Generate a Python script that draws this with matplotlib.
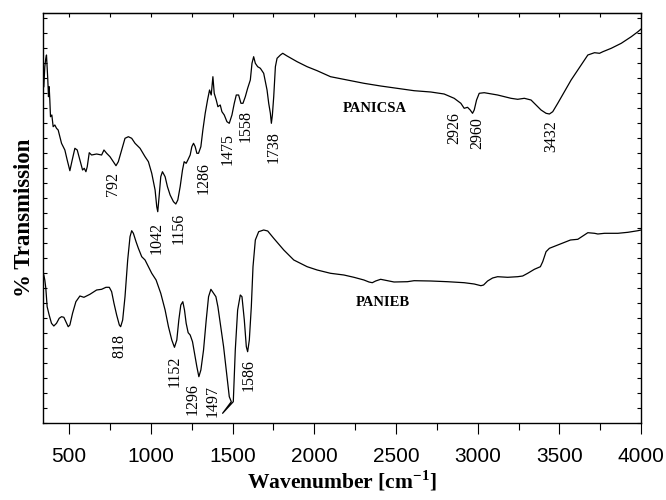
import matplotlib
matplotlib.use('Agg')
import matplotlib.pyplot as plt
from matplotlib.ticker import MultipleLocator

# FTIR spectra, transmission in arbitrary units (curves offset vertically)
wn_csa = [344.8, 350.9, 357.1, 361.2, 365.2, 369.3, 373.4, 377.5, 381.6, 385.7,
          393.9, 402.0, 412.3, 422.5, 432.7, 453.2, 473.6, 487.9, 504.3, 518.6,
          535.0, 549.3, 565.7, 582.0, 592.2, 602.5, 610.6, 622.9, 637.2, 667.9,
          698.6, 712.9, 729.3, 749.7, 770.2, 786.5, 800.8, 821.3, 841.7, 862.2,
          882.6, 903.1, 933.8, 964.4, 984.9, 1005.3, 1025.8, 1036.0, 1042.1, 1050.3,
          1060.5, 1070.8, 1087.1, 1101.4, 1117.8, 1138.3, 1152.6, 1164.8, 1179.2, 1193.5,
          1203.7, 1216.0, 1226.2, 1240.5, 1250.7, 1261.0, 1271.2, 1281.4, 1291.6, 1305.9,
          1318.2, 1332.5, 1346.8, 1359.1, 1369.3, 1379.6, 1387.7, 1400.0, 1410.2, 1424.6,
          1434.8, 1449.1, 1465.5, 1479.8, 1496.1, 1510.4, 1522.7, 1537.0, 1551.3, 1563.6,
          1577.9, 1592.2, 1608.6, 1618.8, 1629.0, 1639.3, 1653.6, 1670.0, 1690.4, 1700.6,
          1710.9, 1721.1, 1731.3, 1737.4, 1743.6, 1751.8, 1762.0, 1772.2, 1792.7, 1807.0,
          1833.6, 1894.9, 1956.3, 2017.6, 2099.4, 2201.7, 2303.9, 2406.2, 2508.4, 2610.7,
          2712.9, 2794.7, 2856.1, 2897.0, 2917.4, 2937.9, 2954.2, 2968.5, 2978.8, 2993.1,
          3009.4, 3040.1, 3121.9, 3203.7, 3244.6, 3285.5, 3326.4, 3357.1, 3387.8, 3418.4,
          3438.9, 3459.3, 3490.0, 3530.9, 3571.8, 3612.7, 3653.6, 3674.1, 3715.0, 3745.6,
          3766.1, 3817.2, 3878.6, 3939.9, 3980.8, 4000.0]
t_csa = [336.3, 356.3, 364.7, 368.0, 356.3, 343.0, 326.3, 336.3, 323.0, 306.3,
         308.0, 296.3, 298.0, 294.7, 293.0, 279.7, 273.0, 263.0, 252.3, 263.0,
         274.7, 273.0, 263.0, 253.0, 254.7, 251.3, 256.3, 270.3, 268.0, 269.0,
         268.0, 273.0, 269.7, 266.3, 261.3, 257.3, 261.3, 273.0, 284.7, 286.3,
         284.7, 279.7, 274.7, 266.3, 261.3, 249.7, 233.0, 216.3, 211.3, 226.3,
         246.3, 251.3, 246.3, 236.3, 228.0, 221.3, 219.0, 223.0, 236.3, 253.0,
         261.3, 259.7, 263.0, 268.0, 276.3, 279.7, 276.3, 269.7, 269.7, 276.3,
         293.0, 309.7, 323.0, 333.0, 328.0, 346.3, 329.7, 323.0, 316.3, 318.0,
         311.3, 308.0, 301.3, 299.7, 308.0, 319.7, 328.0, 328.0, 319.7, 319.7,
         326.3, 334.7, 343.0, 359.7, 366.3, 359.7, 356.3, 354.7, 349.7, 341.3,
         333.0, 319.7, 309.7, 299.7, 308.0, 326.3, 356.3, 364.7, 368.0, 369.7,
         367.0, 361.3, 356.3, 352.3, 346.3, 343.0, 339.7, 337.0, 334.7, 332.3,
         331.0, 329.0, 324.7, 319.7, 314.7, 315.7, 313.0, 309.7, 313.0, 323.0,
         329.7, 330.3, 328.0, 324.7, 323.7, 324.7, 323.0, 318.0, 313.0, 309.7,
         309.0, 311.3, 319.7, 331.3, 343.0, 353.0, 363.0, 368.0, 370.3, 369.7,
         371.3, 374.7, 379.7, 386.3, 391.3, 394.0]

wn_eb = [344.8, 350.9, 357.1, 365.2, 377.5, 391.8, 406.1, 422.5, 438.9, 453.2,
         467.5, 479.8, 494.1, 504.3, 520.7, 541.1, 565.7, 590.2, 627.0, 667.9,
         698.6, 725.2, 745.6, 759.9, 774.2, 790.6, 807.0, 815.1, 827.4, 841.7,
         858.1, 872.4, 882.6, 892.9, 909.2, 923.5, 944.0, 964.4, 984.9, 1005.3,
         1031.9, 1060.5, 1087.1, 1107.6, 1128.0, 1144.4, 1158.7, 1171.0, 1183.2, 1195.5,
         1205.7, 1216.0, 1228.2, 1240.5, 1254.8, 1267.1, 1281.4, 1293.7, 1306.0, 1322.3,
         1338.7, 1353.0, 1367.3, 1383.7, 1398.0, 1410.2, 1424.6, 1445.0, 1465.5, 1479.8,
         1492.2, 1438.9, 1504.4, 1516.6, 1531.0, 1547.3, 1557.5, 1571.8, 1584.1, 1592.2,
         1602.5, 1614.7, 1625.0, 1639.3, 1659.7, 1690.4, 1715.0, 1751.8, 1813.3, 1874.6,
         1895.0, 1956.3, 2017.6, 2099.4, 2181.2, 2242.6, 2303.9, 2334.6, 2355.0, 2375.5,
         2406.2, 2447.1, 2488.0, 2569.8, 2610.7, 2712.9, 2815.2, 2917.4, 2978.8, 3019.7,
         3036.0, 3060.6, 3091.2, 3121.9, 3183.3, 3244.6, 3275.3, 3306.0, 3346.9, 3383.7,
         3398.0, 3418.4, 3438.9, 3490.0, 3530.9, 3567.7, 3612.7, 3643.4, 3674.1, 3715.0,
         3735.4, 3776.3, 3858.1, 3919.4, 3980.8, 4000.0]
t_eb = [148.0, 143.0, 134.7, 116.3, 108.0, 99.7, 97.0, 99.7, 104.7, 106.3,
        105.7, 101.3, 96.3, 98.0, 109.7, 121.3, 127.0, 125.7, 128.7, 133.0,
        133.7, 135.7, 135.7, 131.3, 119.7, 108.0, 98.0, 96.3, 103.0, 126.3,
        163.0, 186.3, 192.3, 189.7, 181.3, 174.7, 166.3, 163.0, 156.3, 149.7,
        143.0, 129.7, 113.0, 96.3, 83.0, 75.7, 83.0, 103.0, 118.0, 121.3,
        113.0, 99.7, 90.3, 88.0, 81.3, 69.7, 56.3, 46.3, 53.0, 73.0,
        103.0, 126.3, 133.7, 129.7, 126.3, 116.3, 99.7, 76.3, 46.3, 26.3,
        21.3, 9.7, 21.3, 73.0, 113.0, 128.0, 126.3, 103.0, 76.3, 71.3,
        83.0, 116.3, 156.3, 183.0, 191.3, 193.0, 192.0, 184.7, 173.0, 163.0,
        161.3, 156.3, 153.0, 149.7, 148.0, 145.7, 143.0, 141.0, 140.3, 142.0,
        143.7, 142.3, 141.0, 141.3, 142.3, 142.0, 141.3, 140.3, 139.0, 137.3,
        138.0, 142.0, 145.0, 146.3, 145.7, 146.3, 147.0, 149.7, 153.7, 156.3,
        161.3, 171.3, 174.7, 178.0, 180.7, 183.0, 183.7, 187.0, 190.3, 189.7,
        189.0, 189.7, 189.7, 190.7, 192.3, 193.0]

# band labels: text, x position, top of text
csa_bands = ['792', '1042', '1156', '1286', '1475', '1558', '1738', '2926', '2960', '3432']
csa_band_x = [766, 1036, 1169, 1322, 1469, 1578, 1752, 2856, 2999, 3449]
csa_band_y = [251, 201, 210, 261, 290, 313, 292, 311, 306, 303]

eb_bands = ['818', '1152', '1296', '1497', '1586']
eb_band_x = [807, 1148, 1255, 1380, 1598]
eb_band_y = [89, 67, 40, 38, 64]

serif = ['Liberation Serif', 'DejaVu Serif']
sans = ['Liberation Sans', 'DejaVu Sans']

fig = plt.figure(figsize=(6.66, 5.0), dpi=100)
ax = fig.add_axes([0.0646, 0.154, 0.898, 0.820])

ax.plot(wn_csa, t_csa, color='black', linewidth=0.9)
ax.plot(wn_eb, t_eb, color='black', linewidth=0.9)

for txt, x, y in zip(csa_bands, csa_band_x, csa_band_y):
    ax.text(x, y, txt, rotation=90, ha='center', va='top', fontsize=11.5, family=serif)
for txt, x, y in zip(eb_bands, eb_band_x, eb_band_y):
    ax.text(x, y, txt, rotation=90, ha='center', va='top', fontsize=11.5, family=serif)

ax.text(2369, 314, 'PANICSA', ha='center', va='center', fontsize=10.5,
        fontweight='bold', family=serif)
ax.text(2421, 121, 'PANIEB', ha='center', va='center', fontsize=10.5,
        fontweight='bold', family=serif)

ax.set_xlim(340, 4000)
ax.set_ylim(0, 410)

ax.xaxis.set_major_locator(MultipleLocator(500))
ax.xaxis.set_minor_locator(MultipleLocator(250))
ax.yaxis.set_major_locator(MultipleLocator(15))
ax.tick_params(axis='x', which='major', direction='out', length=8, width=0.8,
               top=False, labelsize=15, pad=9)
ax.tick_params(axis='x', which='minor', direction='out', length=5, width=0.8, top=False)
ax.tick_params(axis='y', which='major', direction='in', length=3, width=0.8,
               right=True, labelleft=False)

# small inward ticks along the top edge
sec = ax.secondary_xaxis('top')
sec.xaxis.set_major_locator(MultipleLocator(250))
sec.tick_params(direction='in', length=3, width=0.8, labeltop=False)

for lbl in ax.get_xticklabels():
    lbl.set_family(sans)

for sp in ax.spines.values():
    sp.set_linewidth(1.0)

ax.set_xlabel('Wavenumber [cm$^{\\mathregular{-1}}$]', fontsize=15.5, fontweight='bold',
              family=serif, labelpad=2)
ax.set_ylabel('% Transmission', fontsize=16.5, fontweight='bold', family=serif, labelpad=6)

fig.savefig('out.png', dpi=100)
